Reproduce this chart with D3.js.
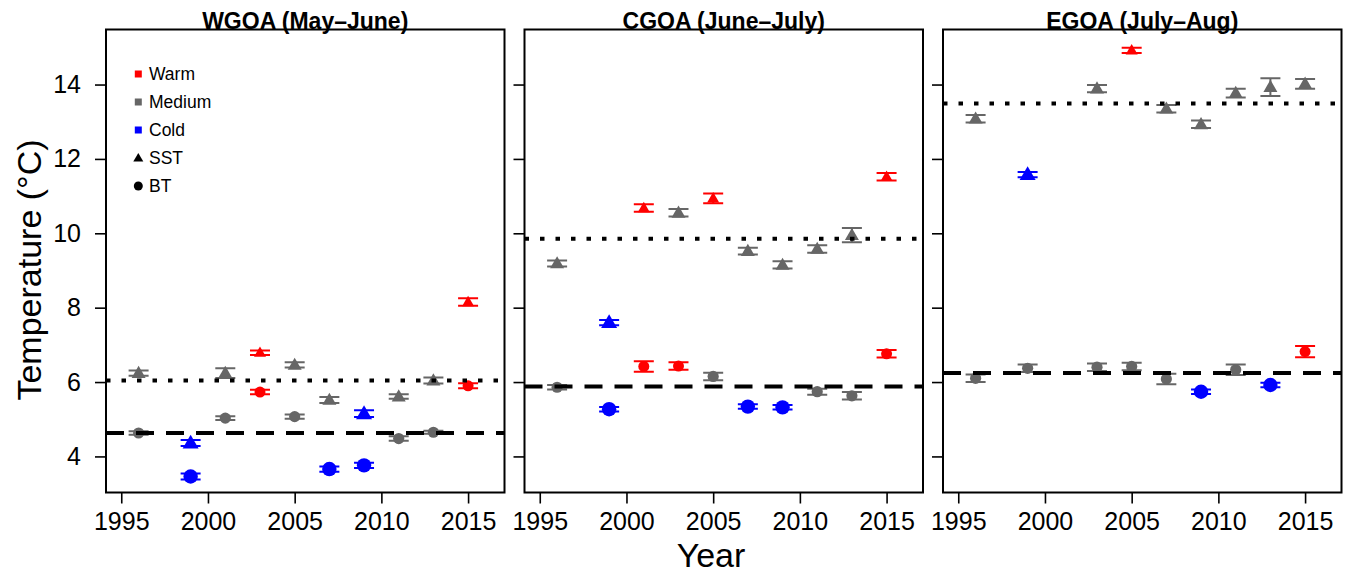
<!DOCTYPE html>
<html><head><meta charset="utf-8">
<script src="https://cdn.jsdelivr.net/npm/d3@7"></script>
<style>body{margin:0;background:#fff;} svg{display:block;font-family:"Liberation Sans",Arial,sans-serif;}</style>
</head><body>
<script>
// ---- data ----
const panelTitles = ["WGOA (May\u2013June)", "CGOA (June\u2013July)", "EGOA (July\u2013Aug)"];
const xTicks = [1995, 2000, 2005, 2010, 2015];
const yTicks = [4, 6, 8, 10, 12, 14];

const wgoaYears = [1996, 1999, 2001, 2003, 2005, 2007, 2009, 2011, 2013, 2015];
const wgoaSST = [6.24, 4.36, 6.24, 6.79, 6.46, 5.52, 5.15, 5.61, 6.04, 8.15];
const wgoaSSTerr = [0.07, 0.08, 0.13, 0.06, 0.07, 0.08, 0.09, 0.06, 0.08, 0.1];
const wgoaSSTcat = ["M", "C", "M", "W", "M", "M", "C", "M", "M", "W"];
const wgoaBT = [4.63, 3.46, 5.03, 5.73, 5.07, 3.66, 3.76, 4.48, 4.65, 5.9];
const wgoaBTerr = [0.05, 0.08, 0.05, 0.06, 0.06, 0.07, 0.07, 0.06, 0.04, 0.07];
const wgoaBTcat = ["M", "C", "M", "W", "M", "C", "C", "M", "M", "W"];
const wgoaMeanSST = 6.04, wgoaMeanBT = 4.63;

const cgoaYears = [1996, 1999, 2001, 2003, 2005, 2007, 2009, 2011, 2013, 2015];
const cgoaSST = [9.19, 7.6, 10.68, 10.55, 10.94, 9.52, 9.15, 9.58, 9.95, 11.52];
const cgoaSSTerr = [0.08, 0.07, 0.1, 0.1, 0.13, 0.09, 0.1, 0.1, 0.19, 0.1];
const cgoaSSTcat = ["M", "C", "W", "M", "W", "M", "M", "M", "M", "W"];
const cgoaBT = [5.86, 5.27, 6.42, 6.43, 6.15, 5.34, 5.32, 5.74, 5.63, 6.76];
const cgoaBTerr = [0.06, 0.06, 0.14, 0.1, 0.1, 0.06, 0.06, 0.08, 0.1, 0.1];
const cgoaBTcat = ["M", "C", "W", "W", "M", "C", "C", "M", "M", "W"];
const cgoaMeanSST = 9.85, cgoaMeanBT = 5.88;

const egoaYears = [1996, 1999, 2003, 2005, 2007, 2009, 2011, 2013, 2015];
const egoaSST = [13.08, 11.58, 13.89, 14.92, 13.35, 12.93, 13.77, 13.93, 14.02];
const egoaSSTerr = [0.1, 0.07, 0.1, 0.07, 0.1, 0.1, 0.12, 0.24, 0.13];
const egoaSSTcat = ["M", "C", "M", "W", "M", "M", "M", "M", "M"];
const egoaBT = [6.1, 6.37, 6.4, 6.42, 6.08, 5.74, 6.33, 5.92, 6.82];
const egoaBTerr = [0.1, 0.1, 0.1, 0.1, 0.14, 0.06, 0.14, 0.06, 0.15];
const egoaBTcat = ["M", "M", "M", "M", "M", "C", "M", "C", "W"];
const egoaMeanSST = 13.49, egoaMeanBT = 6.24;

const legendLabels = ["Warm", "Medium", "Cold", "SST", "BT"];

// ---- assemble ----
const panels = [
  {title: panelTitles[0], years: wgoaYears, sst: wgoaSST, sstErr: wgoaSSTerr, sstCat: wgoaSSTcat, bt: wgoaBT, btErr: wgoaBTerr, btCat: wgoaBTcat, mSST: wgoaMeanSST, mBT: wgoaMeanBT},
  {title: panelTitles[1], years: cgoaYears, sst: cgoaSST, sstErr: cgoaSSTerr, sstCat: cgoaSSTcat, bt: cgoaBT, btErr: cgoaBTerr, btCat: cgoaBTcat, mSST: cgoaMeanSST, mBT: cgoaMeanBT},
  {title: panelTitles[2], years: egoaYears, sst: egoaSST, sstErr: egoaSSTerr, sstCat: egoaSSTcat, bt: egoaBT, btErr: egoaBTerr, btCat: egoaBTcat, mSST: egoaMeanSST, mBT: egoaMeanBT}
];
const color = {W: "#ff0000", M: "#666666", C: "#0000ff"};
const triSize = {W: 12, M: 14, C: 16};
const circR = {W: 5.5, M: 5.6, C: 7.2};

const W = 1352, H = 573;
const svg = d3.select("body").append("svg").attr("width", W).attr("height", H);
const plotTop = 29.5, plotBottom = 492.5, left0 = 106, pw = 398.5, gap = 20;
const y = d3.scaleLinear().domain([3.03, 15.48]).range([plotBottom, plotTop]);

panels.forEach((p, i) => {
  const x0 = left0 + i * (pw + gap);
  const x = d3.scaleLinear().domain([1994.12, 2017.1]).range([x0, x0 + pw]);
  const g = svg.append("g");
  const clipId = "clip" + i;
  svg.append("clipPath").attr("id", clipId).append("rect").attr("x", x0).attr("y", plotTop).attr("width", pw).attr("height", plotBottom - plotTop);

  // x axis
  const xa = g.append("g").attr("transform", `translate(0,${plotBottom})`)
    .call(d3.axisBottom(x).tickValues(xTicks).tickFormat(d3.format("d")).tickSize(11).tickPadding(9));
  xa.select(".domain").remove();
  xa.selectAll("line").attr("stroke", "#000").attr("stroke-width", 1.6);
  xa.selectAll("text").attr("font-size", 25).attr("fill", "#000").attr("font-family", "Liberation Sans, Arial, sans-serif");

  // y axis
  const ya = g.append("g").attr("transform", `translate(${x0},0)`)
    .call(d3.axisLeft(y).tickValues(yTicks).tickSize(11).tickPadding(14).tickFormat(i === 0 ? d3.format("d") : () => ""));
  ya.select(".domain").remove();
  ya.selectAll("line").attr("stroke", "#000").attr("stroke-width", 1.6);
  ya.selectAll("text").attr("font-size", 25).attr("fill", "#000").attr("font-family", "Liberation Sans, Arial, sans-serif");

  const pts = g.append("g").attr("clip-path", `url(#${clipId})`);
  const series = [
    {vals: p.sst, err: p.sstErr, cat: p.sstCat, shape: "tri"},
    {vals: p.bt, err: p.btErr, cat: p.btCat, shape: "circ"}
  ];
  series.forEach(s => {
    p.years.forEach((yr, j) => {
      const cx = x(yr), v = s.vals[j], e = s.err[j], c = color[s.cat[j]];
      const y1 = y(v - e), y2 = y(v + e);
      pts.append("line").attr("x1", cx).attr("x2", cx).attr("y1", y1).attr("y2", y2).attr("stroke", c).attr("stroke-width", 2);
      [y1, y2].forEach(yy => pts.append("line").attr("x1", cx - 10).attr("x2", cx + 10).attr("y1", yy).attr("y2", yy).attr("stroke", c).attr("stroke-width", 2));
      const cy = y(v);
      if (s.shape === "tri") {
        const w = triSize[s.cat[j]], h = w * 0.866;
        pts.append("path").attr("d", `M${cx},${cy - h * 0.6}L${cx - w / 2},${cy + h * 0.4}L${cx + w / 2},${cy + h * 0.4}Z`).attr("fill", c);
      } else {
        pts.append("circle").attr("cx", cx).attr("cy", cy).attr("r", circR[s.cat[j]]).attr("fill", c);
      }
    });
  });

  // reference lines
  pts.append("line").attr("x1", x0).attr("x2", x0 + pw).attr("y1", y(p.mSST)).attr("y2", y(p.mSST))
    .attr("stroke", "#000").attr("stroke-width", 4).attr("stroke-dasharray", "4.5,11");
  pts.append("line").attr("x1", x0).attr("x2", x0 + pw).attr("y1", y(p.mBT)).attr("y2", y(p.mBT))
    .attr("stroke", "#000").attr("stroke-width", 4).attr("stroke-dasharray", "18,12");

  // box
  g.append("rect").attr("x", x0).attr("y", plotTop).attr("width", pw).attr("height", plotBottom - plotTop)
    .attr("fill", "none").attr("stroke", "#000").attr("stroke-width", 2);

  // title
  g.append("text").attr("x", x0 + pw / 2).attr("y", plotTop - 1).attr("text-anchor", "middle")
    .attr("font-size", 23).attr("font-weight", "bold").text(p.title);

  if (i === 0) {
    const lg = g.append("g");
    const lx = 138.3, ly0 = 74, dy = 28;
    legendLabels.forEach((lab, k) => {
      const ly = ly0 + k * dy;
      if (k < 3) {
        const c = color[["W", "M", "C"][k]];
        lg.append("rect").attr("x", lx - 3.5).attr("y", ly - 3.5).attr("width", 7).attr("height", 7).attr("fill", c);
      } else if (k === 3) {
        lg.append("path").attr("d", `M${lx},${ly - 5}L${lx - 5},${ly + 3.5}L${lx + 5},${ly + 3.5}Z`).attr("fill", "#000");
      } else {
        lg.append("circle").attr("cx", lx).attr("cy", ly).attr("r", 4.5).attr("fill", "#000");
      }
      lg.append("text").attr("x", 149).attr("y", ly).attr("dy", "0.35em").attr("font-size", 17.5).text(lab);
    });
  }
});

// axis titles
svg.append("text").attr("x", 711).attr("y", 567).attr("text-anchor", "middle").attr("font-size", 34).text("Year");
svg.append("text").attr("transform", "translate(41,270) rotate(-90)").attr("text-anchor", "middle").attr("font-size", 34).text("Temperature (\u00b0C)");
</script>
</body></html>
